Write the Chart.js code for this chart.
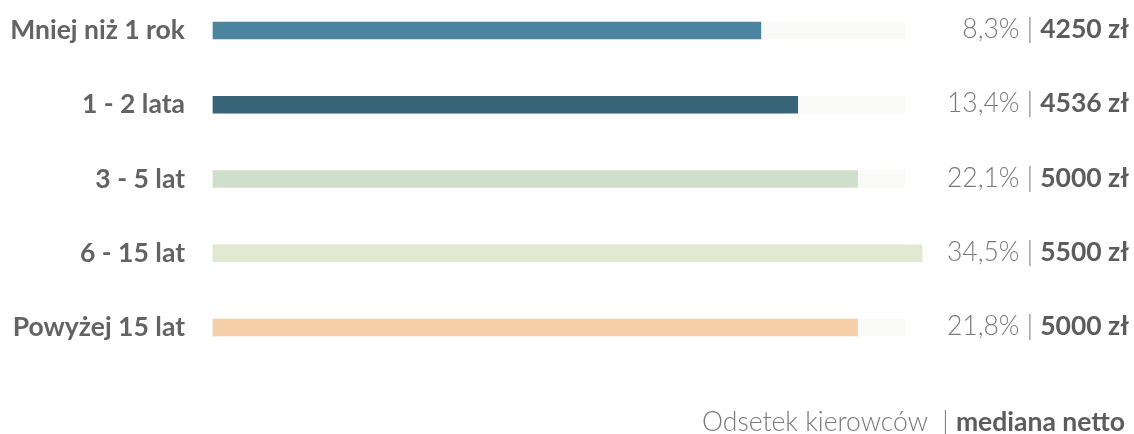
<!DOCTYPE html>
<html lang="pl">
<head>
<meta charset="utf-8">
<script src="https://cdn.jsdelivr.net/npm/chart.js@4/dist/chart.umd.min.js"></script>
<style>
  html, body { margin: 0; padding: 0; background: #ffffff; }
  #wrap { width: 1134px; height: 434px; position: relative; }
</style>
</head>
<body>
<div id="wrap"><canvas id="stazChart"></canvas></div>
<script>
// staż pracy kierowców: odsetek i mediana wynagrodzenia netto
const categories = ['Mniej niż 1 rok', '1 - 2 lata', '3 - 5 lat', '6 - 15 lat', 'Powyżej 15 lat'];
const medianaNetto = [4250, 4536, 5000, 5500, 5000];
const odsetek = ['8,3%', '13,4%', '22,1%', '34,5%', '21,8%'];
const barColors = ['#4b85a0', '#386478', '#cfdfca', '#e1e9d2', '#f6cfa9'];
const trackLength = 5368;
const axisMax = 5500;

const FONT = 'Lato, "Noto Sans", sans-serif';
const SIZE = 26.5;

// wartości po prawej stronie i podpis pod wykresem
const valueLabels = {
  id: 'valueLabels',
  afterDraw(chart) {
    const { ctx, scales: { y } } = chart;
    const right = 1129;
    ctx.save();
    ctx.textBaseline = 'middle';
    ctx.textAlign = 'left';

    const pair = (light, bold, xRight, yy) => {
      ctx.font = `bold ${SIZE}px ${FONT}`;
      const wBold = ctx.measureText(bold).width;
      ctx.font = `300 ${SIZE}px ${FONT}`;
      const wLight = ctx.measureText(light).width;
      ctx.fillStyle = '#7a7a7a';
      ctx.fillText(light, xRight - wBold - wLight, yy);
      ctx.font = `bold ${SIZE}px ${FONT}`;
      ctx.fillStyle = '#5c5c5c';
      ctx.fillText(bold, xRight - wBold, yy);
    };

    categories.forEach((cat, i) => {
      pair(odsetek[i] + ' | ', medianaNetto[i] + ' zł', right, y.getPixelForValue(i) - 1);
    });

    // legenda pod wykresem
    pair('Odsetek kierowców  | ', 'mediana netto', 1125, 422);
    ctx.restore();
  }
};

new Chart(document.getElementById('stazChart'), {
  type: 'bar',
  data: {
    labels: categories,
    datasets: [
      {
        data: medianaNetto,
        backgroundColor: barColors,
        barThickness: 17,
        grouped: false,
        clip: false,
        order: 1
      },
      {
        data: categories.map(() => trackLength),
        backgroundColor: '#fafaf8',
        barThickness: 17,
        grouped: false,
        clip: false,
        order: 2
      }
    ]
  },
  options: {
    indexAxis: 'y',
    responsive: true,
    maintainAspectRatio: false,
    animation: false,
    layout: { padding: { top: 30.5, right: 212, bottom: 106.5, left: 0 } },
    plugins: {
      legend: { display: false },
      tooltip: { enabled: false }
    },
    scales: {
      x: {
        display: false,
        min: 0,
        max: axisMax
      },
      y: {
        offset: false,
        grid: { display: false },
        border: { display: false },
        afterFit: (scale) => {
          scale.width = 213;
          scale.paddingTop = 0;
          scale.paddingBottom = 0;
        },
        ticks: {
          padding: 20,
          color: '#636363',
          font: { family: FONT, size: SIZE, weight: 'bold' }
        }
      }
    }
  },
  plugins: [valueLabels]
});
</script>
</body>
</html>
